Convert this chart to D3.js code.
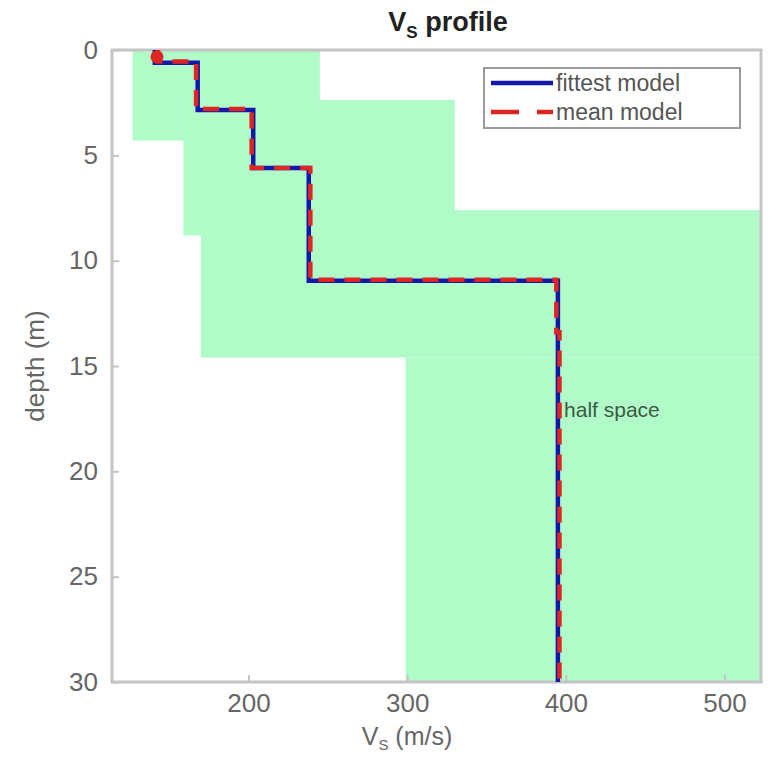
<!DOCTYPE html>
<html>
<head>
<meta charset="utf-8">
<script src="https://cdn.jsdelivr.net/npm/d3@7"></script>
<style>
  html, body { margin: 0; padding: 0; background: #ffffff; }
  svg { display: block; font-family: "Liberation Sans", Arial, sans-serif; }
</style>
</head>
<body>
<svg id="chart" width="781" height="757"></svg>
<script>
// ---- data ----
// search-space boxes (union drawn in light green): depth ranges and Vs ranges
const boxDepthTop    = [0,   2.37, 7.6, 14.6];
const boxDepthBottom = [4.3, 8.8,  14.6, 30];
const boxVsMin       = [127, 159,  170, 299];
const boxVsMax       = [245, 330,  523, 523];

// fittest model: layer Vs and layer bottom depth
const fittestVs     = [141, 168, 203, 238, 395];
const fittestBottom = [0.6, 2.85, 5.6, 10.95, 30];

// mean model
const meanVs     = [143, 167, 202, 239, 394, 396];
const meanBottom = [0.55, 2.8, 5.6, 10.9, 13.4, 30];

const xTicks = [200, 300, 400, 500];
const yTicks = [0, 5, 10, 15, 20, 25, 30];
const legendLabels = ["fittest model", "mean model"];
const halfSpaceLabel = { vs: 397, depth: 17.4, text: "half space" };

// ---- layout ----
const svg = d3.select("#chart");
const x = d3.scaleLinear().domain([114, 523]).range([112, 761]);
const y = d3.scaleLinear().domain([0, 30]).range([50, 682]);

const textColor = "#666";
const axisColor = "#c4c4c4";
const green = "#b1fbc9";
const blue = "#1418a8";
const red = "#dc2624";

// search-space boxes
const boxes = boxDepthTop.map((t, i) => ({ t, b: boxDepthBottom[i], v0: boxVsMin[i], v1: boxVsMax[i] }));
svg.append("g").selectAll("rect").data(boxes).join("rect")
  .attr("x", d => x(d.v0)).attr("y", d => y(d.t))
  .attr("width", d => x(d.v1) - x(d.v0)).attr("height", d => y(d.b) - y(d.t))
  .attr("fill", green);

// stair profile builder
function stairs(vs, bottoms) {
  const pts = [];
  let top = 0;
  vs.forEach((v, i) => {
    pts.push([v, top]);
    pts.push([v, bottoms[i]]);
    top = bottoms[i];
  });
  return pts;
}
const line = d3.line().x(d => x(d[0])).y(d => y(d[1]));

// axes box
const g = svg.append("g");
g.append("rect").attr("x", x.range()[0]).attr("y", y.range()[0])
  .attr("width", x.range()[1] - x.range()[0]).attr("height", y.range()[1] - y.range()[0])
  .attr("fill", "none").attr("stroke", axisColor).attr("stroke-width", 3);

// axes
const xAxis = d3.axisBottom(x).tickValues(xTicks).tickSize(-7).tickPadding(10);
const xg = svg.append("g").attr("transform", `translate(0,${y.range()[1]})`).call(xAxis);
const yAxis = d3.axisLeft(y).tickValues(yTicks).tickSize(-7).tickPadding(14);
const yg = svg.append("g").attr("transform", `translate(${x.range()[0]},0)`).call(yAxis);
[xg, yg].forEach(a => {
  a.select(".domain").remove();
  a.selectAll(".tick line").attr("stroke", axisColor).attr("stroke-width", 2);
  a.selectAll(".tick text").attr("fill", textColor).attr("font-size", 26)
    .attr("font-family", "Liberation Sans, Arial, sans-serif");
});
xg.selectAll(".tick text").attr("dy", "0.75em");

// profiles
svg.append("path").datum(stairs(fittestVs, fittestBottom)).attr("d", line)
  .attr("fill", "none").attr("stroke", blue).attr("stroke-width", 4.5);
svg.append("path").datum(stairs(meanVs, meanBottom)).attr("d", line)
  .attr("fill", "none").attr("stroke", red).attr("stroke-width", 4.5)
  .attr("stroke-dasharray", "16,10");
// top marker blob of mean model
svg.append("circle").attr("cx", x(meanVs[0]) - 1).attr("cy", y(meanBottom[0] * 0.6))
  .attr("r", 6.5).attr("fill", red);

// half space label
svg.append("text").attr("x", x(halfSpaceLabel.vs) + 3).attr("y", y(halfSpaceLabel.depth))
  .attr("font-size", 21).attr("fill", "#3c5a44").text(halfSpaceLabel.text);

// legend
const lg = svg.append("g");
lg.append("rect").attr("x", 484).attr("y", 68).attr("width", 256).attr("height", 60)
  .attr("fill", "#fff").attr("stroke", "#9a9a9a").attr("stroke-width", 2);
const legendStyles = [{ c: blue, dash: null }, { c: red, dash: "28,18" }];
legendLabels.forEach((lab, i) => {
  const ly = 83 + i * 29;
  lg.append("line").attr("x1", 491).attr("x2", 553).attr("y1", ly).attr("y2", ly)
    .attr("stroke", legendStyles[i].c).attr("stroke-width", 4.5)
    .attr("stroke-dasharray", legendStyles[i].dash);
  lg.append("text").attr("x", 556).attr("y", ly + 8).attr("font-size", 23)
    .attr("fill", "#555").text(lab);
});

// title
const title = svg.append("text").attr("x", 448).attr("y", 31).attr("text-anchor", "middle")
  .attr("font-size", 27).attr("font-weight", "bold").attr("fill", "#222");
title.append("tspan").text("V");
title.append("tspan").attr("font-size", 17).attr("dy", 7).text("S");
title.append("tspan").attr("dy", -7).text(" profile");

// x label
const xl = svg.append("text").attr("x", 407).attr("y", 745).attr("text-anchor", "middle")
  .attr("font-size", 25).attr("fill", textColor);
xl.append("tspan").text("V");
xl.append("tspan").attr("font-size", 15).attr("dy", 5).text("S");
xl.append("tspan").attr("dy", -5).text(" (m/s)");

// y label
svg.append("text").attr("transform", `translate(44,${(y.range()[0] + y.range()[1]) / 2}) rotate(-90)`)
  .attr("text-anchor", "middle").attr("font-size", 26).attr("fill", textColor).text("depth (m)");
</script>
</body>
</html>
